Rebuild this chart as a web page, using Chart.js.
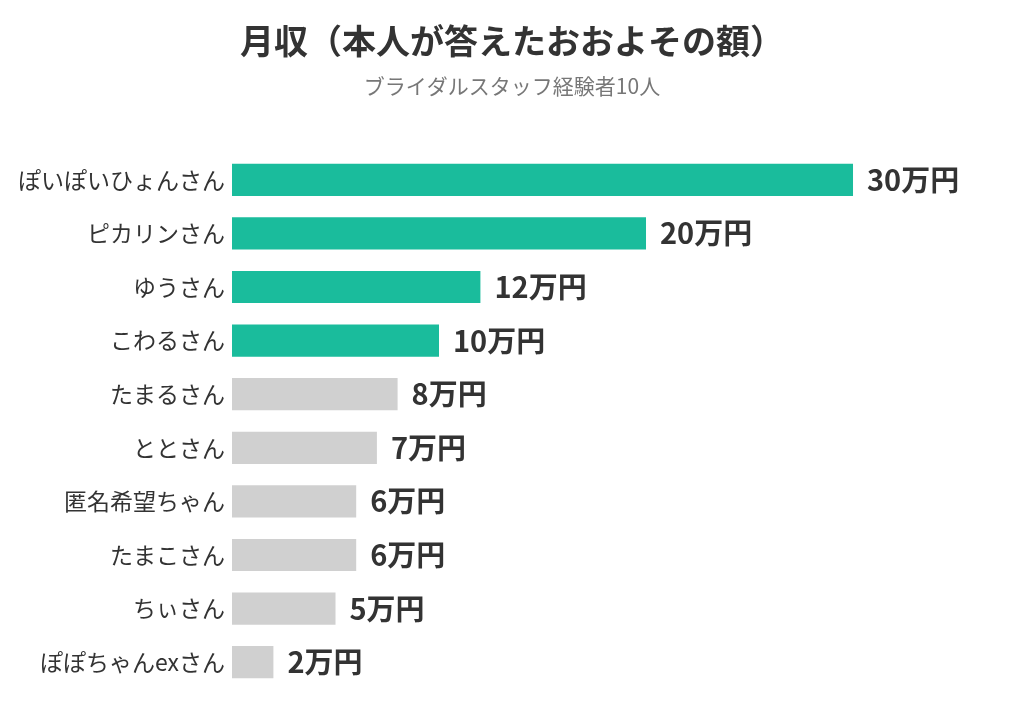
<!DOCTYPE html>
<html>
<head>
<meta charset="utf-8">
<script src="https://cdn.jsdelivr.net/npm/chart.js@4"></script>
<style>
  html, body { margin: 0; padding: 0; background: #fff; }
  #wrap { width: 1024px; height: 720px; }
</style>
</head>
<body>
<div id="wrap"><canvas id="chart" width="1024" height="720"></canvas></div>
<script>
const names = ['ぽいぽいひょんさん', 'ピカリンさん', 'ゆうさん', 'こわるさん', 'たまるさん',
  'ととさん', '匿名希望ちゃん', 'たまこさん', 'ちぃさん', 'ぽぽちゃんexさん'];
const income = [30, 20, 12, 10, 8, 7, 6, 6, 5, 2];
const unit = '万円';
const highlightCount = 4;

const FONT = '"Noto Sans CJK JP", "Noto Sans", sans-serif';

// 棒の右に金額を描く
const valueLabels = {
  id: 'valueLabels',
  afterDatasetsDraw(chart) {
    const ctx = chart.ctx;
    const meta = chart.getDatasetMeta(0);
    ctx.save();
    ctx.font = 'bold 29px ' + FONT;
    ctx.fillStyle = '#333';
    ctx.textAlign = 'left';
    ctx.textBaseline = 'middle';
    meta.data.forEach((bar, i) => {
      ctx.fillText(income[i] + unit, bar.x + 14, bar.y);
    });
    ctx.restore();
  }
};

new Chart(document.getElementById('chart'), {
  type: 'bar',
  data: {
    labels: names,
    datasets: [{
      data: income,
      backgroundColor: income.map((v, i) => i < highlightCount ? '#1abc9c' : '#d0d0d0'),
      barPercentage: 0.6,
      categoryPercentage: 1.0
    }]
  },
  options: {
    indexAxis: 'y',
    responsive: false,
    animation: false,
    layout: { padding: { left: 0, right: 0, top: 0, bottom: 31 } },
    plugins: {
      legend: { display: false },
      tooltip: { enabled: false },
      title: {
        display: true,
        text: '月収（本人が答えたおおよその額）',
        color: '#333',
        font: { family: FONT, size: 34, weight: 'bold' },
        padding: { top: 21, bottom: 12 }
      },
      subtitle: {
        display: true,
        text: 'ブライダルスタッフ経験者10人',
        color: '#777',
        font: { family: FONT, size: 21 },
        padding: { top: 0, bottom: 54 }
      }
    },
    scales: {
      // 右側に金額ラベルの余白を残す
      x: { display: false, min: 0, max: 38.26 },
      y: {
        grid: { display: false, drawTicks: false },
        border: { display: false },
        ticks: {
          color: '#333',
          padding: 7,
          font: { family: FONT, size: 23 }
        },
        afterFit(scale) { scale.width = 232; }
      }
    }
  },
  plugins: [valueLabels]
});
</script>
</body>
</html>
